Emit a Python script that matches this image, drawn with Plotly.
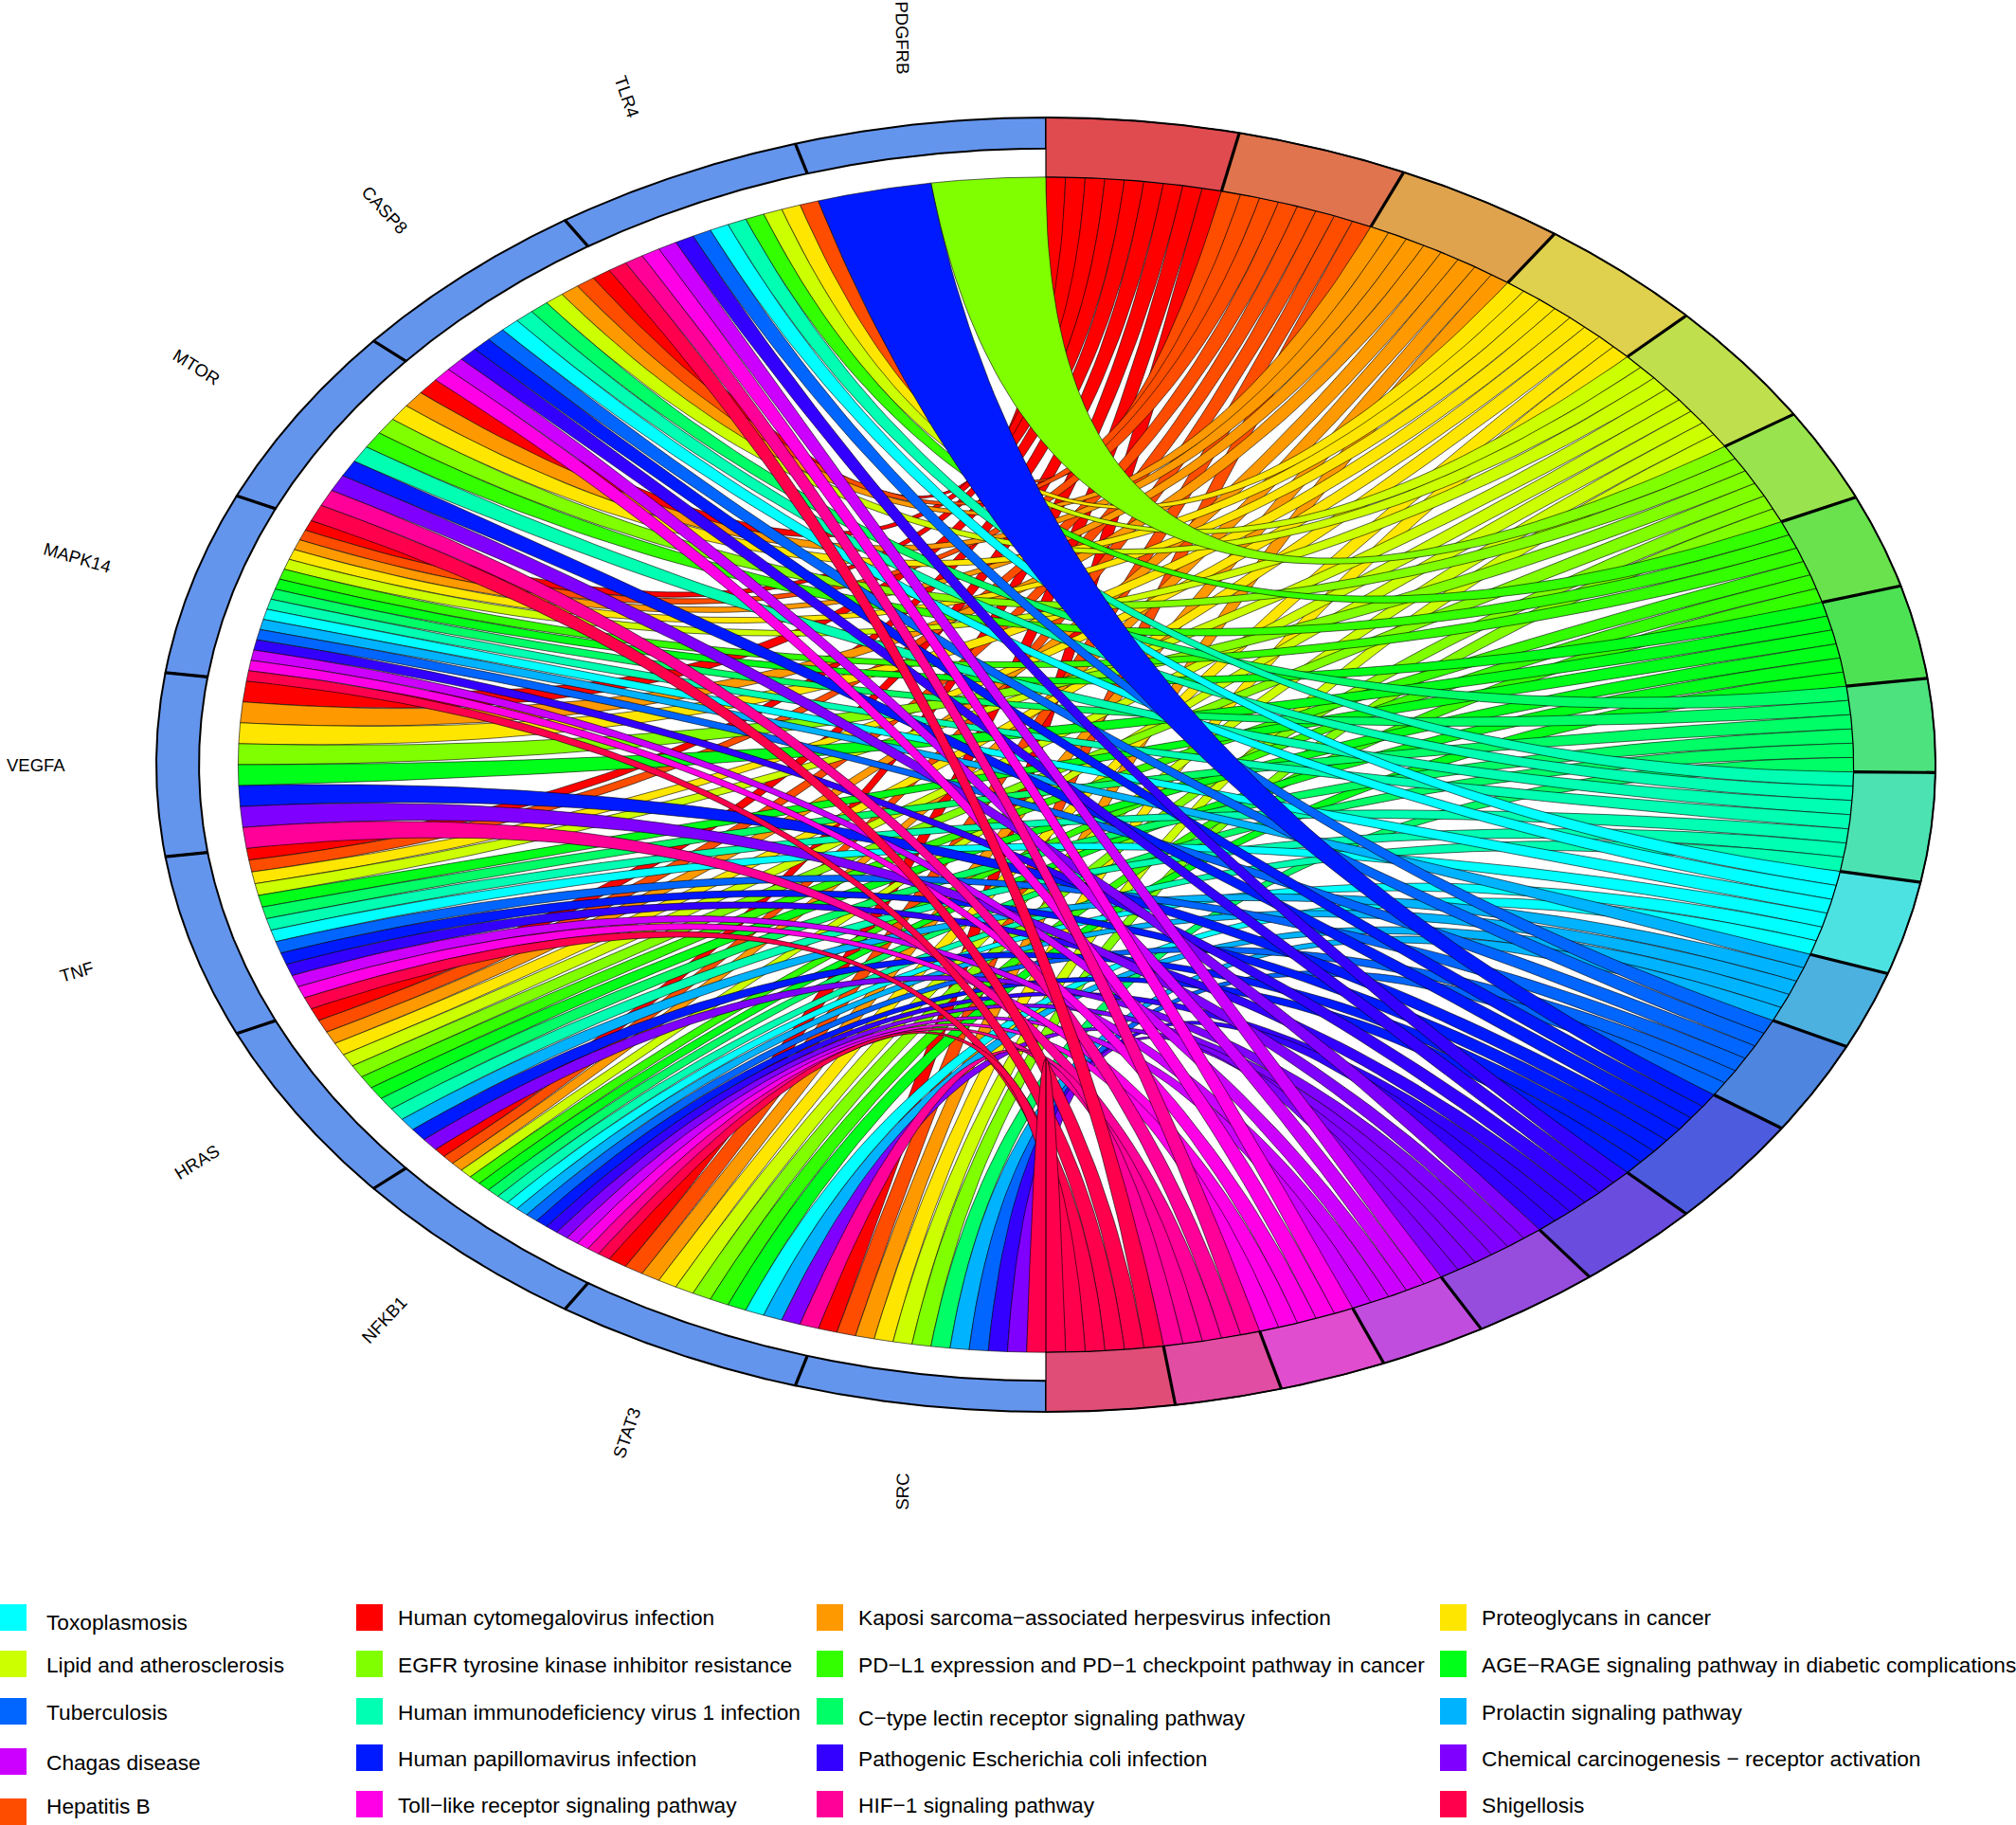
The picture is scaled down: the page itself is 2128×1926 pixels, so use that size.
import numpy as np
import plotly.graph_objects as go

W, H = 2128, 1926
CX, CY, RX, RY = 1104.0, 807.0, 939.0, 683.0

genes = ["PDGFRB", "TLR4", "CASP8", "MTOR", "MAPK14", "VEGFA", "TNF", "HRAS", "NFKB1", "STAT3", "SRC"]
label_angles = [89, 71, 47, 32, 16, 0, -16, -32, -47, -71, -89]

terms = [
    "Human cytomegalovirus infection", "Hepatitis B", "Kaposi sarcoma\u2212associated herpesvirus infection",
    "Proteoglycans in cancer", "Lipid and atherosclerosis", "EGFR tyrosine kinase inhibitor resistance",
    "PD\u2212L1 expression and PD\u22121 checkpoint pathway in cancer",
    "AGE\u2212RAGE signaling pathway in diabetic complications", "C\u2212type lectin receptor signaling pathway",
    "Human immunodeficiency virus 1 infection", "Toxoplasmosis", "Prolactin signaling pathway", "Tuberculosis",
    "Human papillomavirus infection", "Pathogenic Escherichia coli infection",
    "Chemical carcinogenesis \u2212 receptor activation", "Chagas disease", "Toll\u2212like receptor signaling pathway",
    "HIF\u22121 signaling pathway", "Shigellosis",
]

ribbon_colors = ["#FF0000", "#FF4D00", "#FF9900", "#FFE600", "#CCFF00", "#80FF00", "#33FF00", "#00FF19", "#00FF66", "#00FFB2",
                 "#00FFFF", "#00B3FF", "#0066FF", "#001AFF", "#3300FF", "#7F00FF", "#CC00FF", "#FF00E6", "#FF0099", "#FF004D"]
term_sector_colors = ["#E04B50", "#DF744E", "#DFA24D", "#DFD04D", "#BFDF4D", "#99E34E", "#69E24E", "#4DE254", "#4DE27E", "#4DE2B1",
                      "#4DE2E2", "#4DB1E0", "#4D85DF", "#4D5BDE", "#6A4DDE", "#964DDE", "#C14DDE", "#E04DCE", "#E04DA2", "#E04D76"]
gene_sector_color = "#6495ED"

# term indices linked to each gene, in gene order
gene_members = [
    [5, 13],
    [1, 3, 4, 6, 9, 10, 12, 14, 16, 17, 18, 19],
    [0, 1, 2, 4, 8, 9, 10, 12, 13, 14, 16, 17],
    [0, 2, 3, 5, 6, 9, 13, 15, 18, 19],
    [0, 1, 2, 3, 4, 6, 7, 8, 9, 10, 11, 12, 14, 16, 17, 19],
    [0, 2, 3, 5, 7, 13, 15, 18],
    [0, 1, 3, 4, 7, 8, 9, 10, 12, 13, 14, 16, 17, 19],
    [0, 1, 2, 3, 4, 5, 6, 7, 8, 9, 11, 13, 15],
    [0, 1, 2, 4, 6, 7, 8, 9, 10, 11, 12, 13, 14, 15, 16, 17, 18, 19],
    [0, 1, 2, 3, 4, 5, 6, 7, 10, 11, 15, 18],
    [0, 1, 2, 3, 4, 5, 8, 11, 12, 14, 15, 19],
]

# legend: term indices by column, top to bottom
legend_columns = [[10, 4, 12, 16, 1], [0, 5, 9, 13, 17], [2, 6, 8, 14, 18], [3, 7, 11, 15, 19]]

R_OUT, R_RING, R_IN = 1.0, 0.952, 0.908


def pol(theta_deg, r):
    t = np.radians(theta_deg)
    return r * np.cos(t), r * np.sin(t)


def arc(a, b, r, step=0.25):
    n = max(2, int(abs(b - a) / step) + 1)
    return pol(np.linspace(a, b, n), r)


def bez(x0, y0, x1, y1, n=80):
    t = np.linspace(0, 1, n)
    return (1 - t) ** 2 * x0 + t ** 2 * x1, (1 - t) ** 2 * y0 + t ** 2 * y1


fig = go.Figure()


def add_poly(x, y, fill, line="black", width=0.6):
    fig.add_trace(go.Scatter(x=x, y=y, mode="lines", fill="toself", fillcolor=fill,
                             line=dict(color=line, width=width), hoverinfo="skip", showlegend=False))


def add_line(x, y, width):
    fig.add_trace(go.Scatter(x=x, y=y, mode="lines", line=dict(color="black", width=width),
                             hoverinfo="skip", showlegend=False))


# angular layout derived from membership
gene_step = 180.0 / len(genes)
total = sum(len(m) for m in gene_members)
term_step = 180.0 / total
term_counts = [sum(t in m for m in gene_members) for t in range(len(terms))]
term_start = 90.0 - term_step * np.concatenate([[0], np.cumsum(term_counts)[:-1]])

ribbons = []
term_used = [0] * len(terms)
for g, members in enumerate(gene_members):
    g0 = 90.0 + g * gene_step
    w = gene_step / len(members)
    for k, t in enumerate(members):
        a0 = g0 + k * w
        a1 = a0 + w
        b0 = term_start[t] - term_used[t] * term_step
        b1 = b0 - term_step
        term_used[t] += 1
        ribbons.append((t, g, a0, a1, b0, b1))

for t, g, a0, a1, b0, b1 in sorted(ribbons, key=lambda r: (r[0], r[1])):
    xa, ya = arc(a0, a1, R_IN)
    x1a, y1a = pol(a1, R_IN)
    x1b, y1b = pol(b1, R_IN)
    xb1, yb1 = bez(x1a, y1a, x1b, y1b)
    xb, yb = arc(b1, b0, R_IN)
    x0b, y0b = pol(b0, R_IN)
    x0a, y0a = pol(a0, R_IN)
    xb2, yb2 = bez(x0b, y0b, x0a, y0a)
    add_poly(np.concatenate([xa, xb1, xb, xb2]), np.concatenate([ya, yb1, yb, yb2]), ribbon_colors[t], width=0.6)

# gene sectors
for g in range(len(genes)):
    a0 = 90.0 + g * gene_step
    a1 = a0 + gene_step
    xo, yo = arc(a0, a1, R_OUT)
    xi, yi = arc(a1, a0, R_RING)
    add_poly(np.concatenate([xo, xi, xo[:1]]), np.concatenate([yo, yi, yo[:1]]), gene_sector_color, width=2)
for g in range(1, len(genes)):
    a = 90.0 + g * gene_step
    xs, ys = pol(a, R_OUT)
    xe, ye = pol(a, R_RING)
    add_line([xs, xe], [ys, ye], 3.2)

# term sectors
for t in range(len(terms)):
    b0 = term_start[t]
    b1 = b0 - term_counts[t] * term_step
    xo, yo = arc(b0, b1, R_OUT)
    xi, yi = arc(b1, b0, R_IN)
    add_poly(np.concatenate([xo, xi, xo[:1]]), np.concatenate([yo, yi, yo[:1]]), term_sector_colors[t], width=1.2)
    add_line(xo, yo, 2)
    if t > 0:
        xs, ys = pol(b0, R_OUT)
        xe, ye = pol(b0, R_IN)
        add_line([xs, xe], [ys, ye], 3.2)

annotations = []
shapes = []

# gene labels
for g, name in enumerate(genes):
    mid = 90.0 + (g + 0.5) * gene_step
    lx, ly = pol(mid, 1.135)
    annotations.append(dict(x=lx, y=ly, xref="x", yref="y", text=name, showarrow=False,
                            textangle=label_angles[g], xanchor="center", yanchor="middle",
                            font=dict(family="Liberation Sans", size=18.5, color="black")))

# legend (pixel layout)
sq_x = [0, 376, 862, 1520]
txt_x = [47, 418, 904, 1562]
sq_y = [[1693, 1742, 1792, 1845, 1898], [1693, 1742, 1792, 1841, 1890], [1693, 1742, 1792, 1841, 1890], [1693, 1742, 1792, 1841, 1890]]
txt_y = [[1712, 1757, 1807, 1860, 1906], [1707, 1757, 1807, 1856, 1905], [1707, 1757, 1813, 1856, 1905], [1707, 1757, 1807, 1856, 1905]]
for c, col in enumerate(legend_columns):
    for r, t in enumerate(col):
        shapes.append(dict(type="rect", xref="paper", yref="paper", x0=sq_x[c] / W, x1=(sq_x[c] + 28) / W,
                           y0=1 - sq_y[c][r] / H, y1=1 - min(sq_y[c][r] + 28, H) / H,
                           fillcolor=ribbon_colors[t], line=dict(width=0)))
        annotations.append(dict(x=txt_x[c] / W, y=1 - txt_y[c][r] / H, xref="paper", yref="paper", text=terms[t],
                                showarrow=False, xanchor="left", yanchor="middle",
                                font=dict(family="Liberation Sans", size=22.7, color="black")))

fig.update_layout(
    width=W, height=H, margin=dict(l=0, r=0, t=0, b=0),
    paper_bgcolor="white", plot_bgcolor="white", showlegend=False,
    xaxis=dict(visible=False, range=[-CX / RX, (W - CX) / RX], fixedrange=True),
    yaxis=dict(visible=False, range=[(CY - H) / RY, CY / RY], fixedrange=True),
    annotations=annotations, shapes=shapes,
)

fig.write_html("out.html", config={"displayModeBar": False},
               post_script="document.body.style.margin='0';document.body.style.overflow='hidden';")
